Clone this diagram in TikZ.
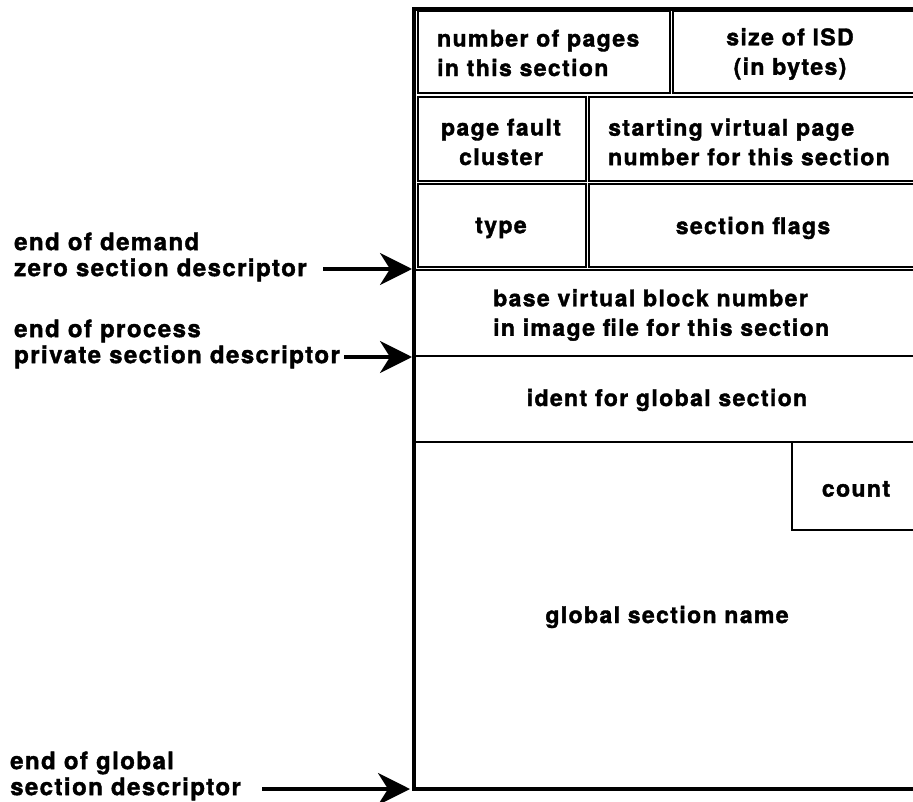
\documentclass[tikz,border=0pt]{standalone}
\usepackage{fontspec}
\setmainfont{TeX Gyre Heros}[LetterSpace=6, BoldFeatures={FakeBold=1.6}]
\usetikzlibrary{arrows.meta}
\begin{document}
\begin{tikzpicture}[x=1pt,y=-1pt,
  frameline/.style={line width=3.1pt, line join=miter},
  cellline/.style={line width=2.6pt, line join=miter},
  sideline/.style={line width=3.6pt, -{Stealth[length=32pt,width=32pt,inset=10pt]}},
  lbl/.style={font=\fontsize{24}{26}\selectfont\bfseries, inner sep=0pt, align=left, anchor=west},
  boxtxt/.style={font=\fontsize{23}{29.5}\selectfont\bfseries, inner sep=0pt},
  boxtxtl/.style={boxtxt, align=left, anchor=west},
  boxtxtc/.style={boxtxt, align=center}
]
\useasboundingbox (0,0) rectangle (913,802);
% outer frame
\draw[frameline] (920,9) -- (414,9) -- (414,789) -- (920,789);
% nested cells, rows 1-3
\draw[cellline] (418,11) rectangle (670,93);
\draw[cellline] (673,11) rectangle (920,93);
\draw[cellline] (418,97) rectangle (586,181);
\draw[cellline] (589,97) rectangle (920,181);
\draw[cellline] (418,184) rectangle (586,267);
\draw[cellline] (589,184) rectangle (920,267);
% full-width separators
\draw[cellline] (414,270) -- (920,270);
\draw[cellline] (414,356) -- (920,356);
\draw[cellline] (414,442) -- (920,442);
% count cell
\draw[cellline] (920,530) -- (792,530) -- (792,442);

% cell texts
\node[boxtxtl] (npages) at (437,53) {number of pages\\in this section};
\node[boxtxtc] (isdsize) at (790,54) {size of ISD\\(in bytes)};
\node[boxtxtc] (pfc) at (501,142) {page fault\\cluster};
\node[boxtxtl] (svpn) at (608,142) {starting virtual page\\number for this section};
\node[boxtxtc] (type) at (501,228) {type};
\node[boxtxtc] (flags) at (753,228) {section flags};
\node[boxtxtl] (bvbn) at (493,315) {base virtual block number\\in image file for this section};
\node[boxtxtc] (ident) at (667,400) {ident for global section};
\node[boxtxtc] (count) at (856,489) {count};
\node[boxtxtc] (gsname) at (667,617) {global section name};

% side labels
\node[lbl] (demand) at (14,257) {end of demand\\zero section descriptor};
\node[lbl] (process) at (14,344) {end of process\\private section descriptor};
\node[lbl] (global) at (10,776) {end of global\\section descriptor};

% arrows
\coordinate (a1s) at (323,269);
\coordinate (a1e) at (412,269);
\coordinate (a2s) at (344,357);
\coordinate (a2e) at (412,357);
\coordinate (a3s) at (262,789);
\coordinate (a3e) at (410,789);
\draw[sideline] (a1s) -- (a1e);
\draw[sideline] (a2s) -- (a2e);
\draw[sideline] (a3s) -- (a3e);
\end{tikzpicture}
\end{document}
